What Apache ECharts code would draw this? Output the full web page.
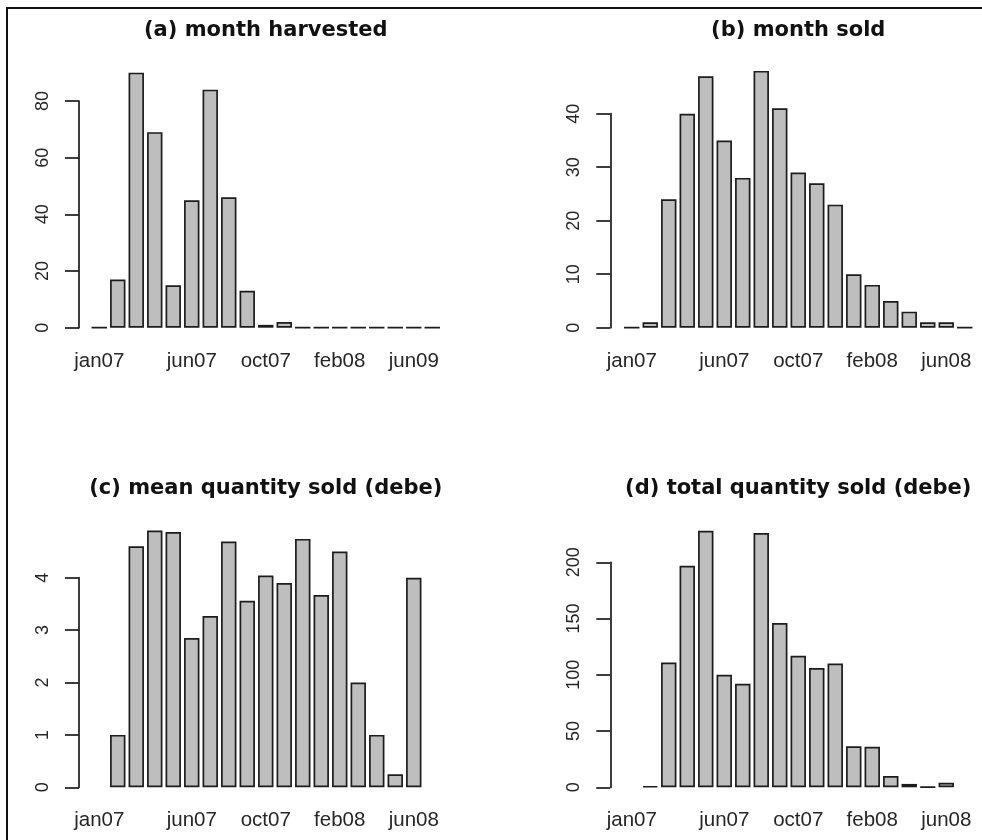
<!DOCTYPE html>
<html>
<head>
<meta charset="utf-8">
<script src="https://cdn.jsdelivr.net/npm/echarts@6/dist/echarts.min.js"></script>
<style>
  html, body { margin: 0; padding: 0; background: #ffffff; }
  #chart { width: 982px; height: 840px; }
</style>
</head>
<body>
<div id="chart"></div>
<script>
// Months covered by the survey (one bar per month)
const months = ['jan07','feb07','mar07','apr07','may07','jun07','jul07','aug07','sep07','oct07',
                'nov07','dec07','jan08','feb08','mar08','apr08','may08','jun08','jul08'];

// Month labels printed under each panel (blank = not printed)
const harvestTicks = ['jan07','','','','','jun07','','','','oct07','','','','feb08','','','','jun09',''];
const saleTicks    = ['jan07','','','','','jun07','','','','oct07','','','','feb08','','','','jun08',''];

// Panel values ('-' = no sales that month, nothing drawn)
const harvested = [0, 17, 90, 69, 15, 45, 84, 46, 13, 1, 2, 0, 0, 0, 0, 0, 0, 0, 0];
const sold      = [0, 1, 24, 40, 47, 35, 28, 48, 41, 29, 27, 23, 10, 8, 5, 3, 1, 1, 0];
const meanQty   = ['-', 1, 4.6, 4.9, 4.87, 2.85, 3.27, 4.69, 3.56, 4.04, 3.9, 4.74, 3.67, 4.5, 2, 1, 0.25, 4, '-'];
const totalQty  = ['-', 1, 111, 197, 228, 100, 92, 226, 146, 117, 106, 110, 36.5, 36, 10, 3, 0.25, 4, '-'];

// Y-axis tick values per panel
const yTicksA = [0, 20, 40, 60, 80];
const yTicksB = [0, 10, 20, 30, 40];
const yTicksC = [0, 1, 2, 3, 4];
const yTicksD = [0, 50, 100, 150, 200];

const titles = ['(a) month harvested', '(b) month sold',
                '(c) mean quantity sold (debe)', '(d) total quantity sold (debe)'];

// Page layout of the four panels
const panels = [
  { data: harvested, ticks: harvestTicks, yTicks: yTicksA, left: 90,    axisX: 79,    top: 101,   zero: 327.7, titleY: 30.5 },
  { data: sold,      ticks: saleTicks,    yTicks: yTicksB, left: 622.5, axisX: 610.3, top: 113.7, zero: 327.7, titleY: 30.5 },
  { data: meanQty,   ticks: saleTicks,    yTicks: yTicksC, left: 90,    axisX: 79,    top: 577.7, zero: 787.3, titleY: 488.5 },
  { data: totalQty,  ticks: saleTicks,    yTicks: yTicksD, left: 622.5, axisX: 610.3, top: 562.3, zero: 787.3, titleY: 488.5 }
];
const plotWidth = 351.5;
const ink = '#1c1c1c';

const chart = echarts.init(document.getElementById('chart'), null, { renderer: 'canvas' });

const option = {
  backgroundColor: '#ffffff',
  animation: false,
  title: panels.map((p, i) => ({
    text: titles[i],
    left: p.left + plotWidth / 2,
    top: p.titleY,
    textAlign: 'center',
    textVerticalAlign: 'middle',
    padding: 0,
    textStyle: { fontFamily: 'DejaVu Sans', fontWeight: 'bold', fontSize: 21, color: '#111111' }
  })),
  grid: panels.map(p => ({
    left: p.left,
    top: p.top,
    width: plotWidth,
    height: p.zero - p.top,
    containLabel: false,
    outerBoundsMode: 'none'
  })),
  xAxis: panels.map((p, i) => ({
    type: 'category',
    gridIndex: i,
    data: months,
    boundaryGap: true,
    axisLine: { show: false },
    axisTick: { show: false },
    axisLabel: {
      interval: 0,
      margin: 23,
      fontFamily: 'Liberation Sans',
      fontSize: 20.5,
      color: '#262626',
      formatter: (v, idx) => p.ticks[idx]
    },
    splitLine: { show: false }
  })),
  yAxis: panels.map((p, i) => ({
    type: 'value',
    gridIndex: i,
    min: p.yTicks[0],
    max: p.yTicks[p.yTicks.length - 1],
    interval: p.yTicks[1] - p.yTicks[0],
    offset: p.left - p.axisX,
    axisLine: { show: true, lineStyle: { color: ink, width: 1.7 } },
    axisTick: { show: true, length: 14, lineStyle: { color: ink, width: 1.7 } },
    axisLabel: {
      rotate: 90,
      margin: 27,
      fontFamily: 'Liberation Sans',
      fontSize: 18,
      color: '#262626'
    },
    splitLine: { show: false }
  })),
  series: panels.map((p, i) => ({
    type: 'bar',
    xAxisIndex: i,
    yAxisIndex: i,
    data: p.data,
    clip: false,
    barCategoryGap: '16.67%',
    itemStyle: { color: '#bebebe', borderColor: ink, borderWidth: 1.7 },
    emphasis: { disabled: true }
  })),
  graphic: [{
    // frame around the figure (top and left edges fall inside the page)
    type: 'rect',
    shape: { x: 7, y: 8, width: 1100, height: 1000 },
    style: { fill: 'none', stroke: '#111111', lineWidth: 2 },
    silent: true
  }]
};

chart.setOption(option);
</script>
</body>
</html>
